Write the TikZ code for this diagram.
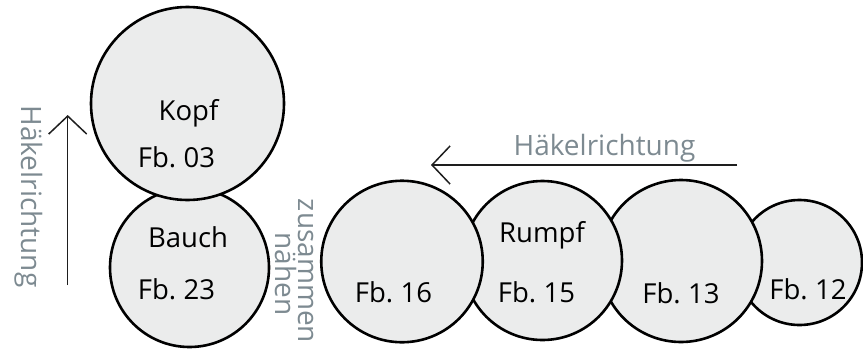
\documentclass[tikz,border=0pt]{standalone}
\usepackage{fontspec}
\setmainfont{Open Sans}
\usetikzlibrary{arrows.meta}
\definecolor{ballfill}{HTML}{EBECEC}
\definecolor{labelgray}{HTML}{7D8A91}
\definecolor{arrowcol}{HTML}{1E1E1E}
\newcommand{\mytightspace}{\spaceskip 5pt\relax}
\tikzset{
  ball/.style={circle, draw=black, line width=2.6pt, fill=ballfill, inner sep=0pt},
  blacklabel/.style={anchor=base, inner sep=0pt, text=black, font=\fontsize{27.5}{32}\selectfont\mytightspace},
  graylabel/.style={anchor=base, inner sep=0pt, text=labelgray, font=\fontsize{28}{33}\selectfont},
  dirarrow/.style={draw=arrowcol, line width=1.5pt, -{Straight Barb[length=18pt,width=38pt]}}
}
\begin{document}
\begin{tikzpicture}[x=1pt,y=-1pt]
\useasboundingbox (0,0) rectangle (863,349);
% circles (drawing order matters)
\node[ball, minimum size=159pt] (bauch) at (189.5,267.5) {};
\node[ball, minimum size=193pt] (kopf) at (187.5,103.5) {};
\node[ball, minimum size=125pt] (fb12) at (799.5,262.5) {};
\node[ball, minimum size=162pt] (fb13) at (681,261) {};
\node[ball, minimum size=159pt] (fb15) at (542.5,260.5) {};
\node[ball, minimum size=161.5pt] (fb16) at (402,261.5) {};
% black labels
\node[blacklabel] (tkopf) at (188.5,120) {Kopf};
\node[blacklabel] (t03) at (176.5,167) {Fb. 03};
\node[blacklabel] (tbauch) at (188,247) {Bauch};
\node[blacklabel] (t23) at (176.5,299) {Fb. 23};
\node[blacklabel] (t16) at (393.5,302) {Fb. 16};
\node[blacklabel] (trumpf) at (542,242) {Rumpf};
\node[blacklabel] (t15) at (536.5,302) {Fb. 15};
\node[blacklabel] (t13) at (681,303) {Fb. 13};
\node[blacklabel] (t12) at (808,299) {Fb. 12};
% gray labels
\node[graylabel] (hhor) at (604.5,155) {Häkelrichtung};
\node[graylabel, rotate=-90] (hver) at (21,196.5) {Häkelrichtung};
\node[graylabel, rotate=-90] (zus) at (298,271) {zusammen};
\node[graylabel, rotate=-90] (naeh) at (275,274) {nähen};
% arrows
\coordinate (vtail) at (67.7,285);
\coordinate (vtip) at (67.7,115);
\coordinate (htail) at (737,165);
\coordinate (htip) at (431,165);
\draw[dirarrow] (vtail) -- (vtip);
\draw[dirarrow] (htail) -- (htip);
\end{tikzpicture}
\end{document}
